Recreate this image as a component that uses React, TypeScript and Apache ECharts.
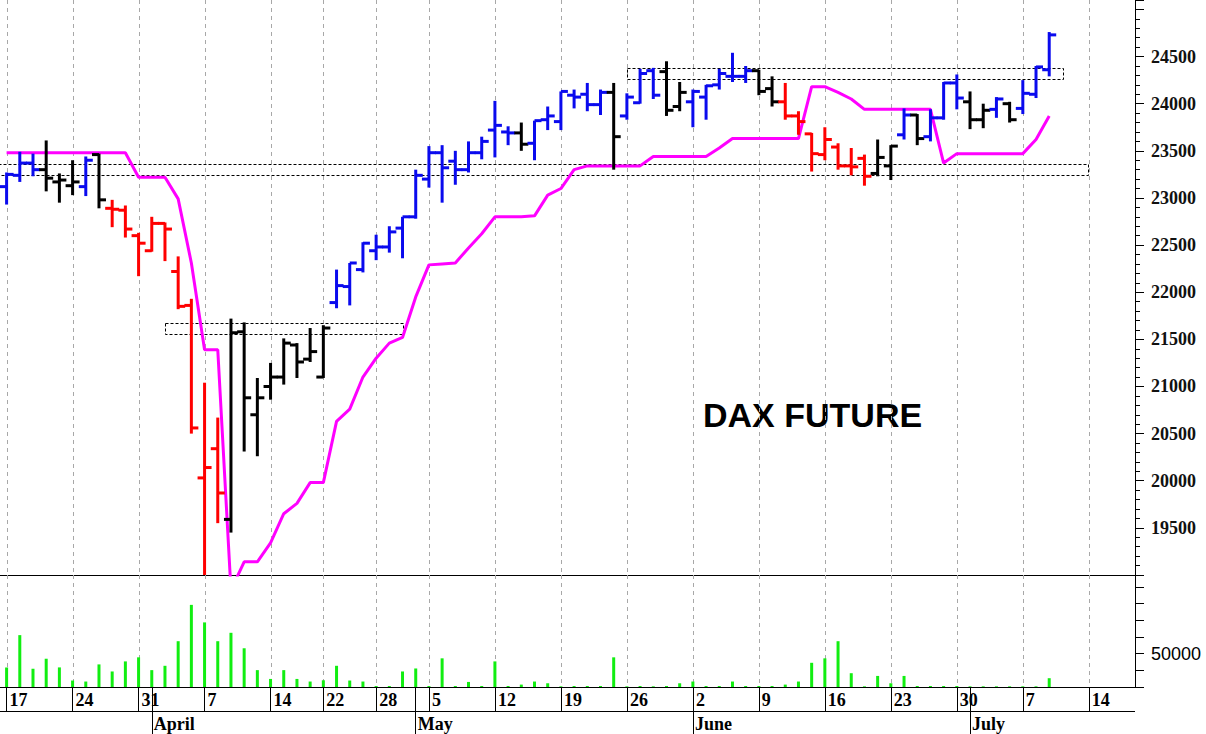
import React, { useEffect, useRef } from 'react';
import * as echarts from 'echarts';

const dates: string[] = [
  '2025-03-17', '2025-03-18', '2025-03-19', '2025-03-20', '2025-03-21',
  '2025-03-24', '2025-03-25', '2025-03-26', '2025-03-27', '2025-03-28',
  '2025-03-31', '2025-04-01', '2025-04-02', '2025-04-03', '2025-04-04',
  '2025-04-07', '2025-04-08', '2025-04-09', '2025-04-10', '2025-04-11',
  '2025-04-14', '2025-04-15', '2025-04-16', '2025-04-17',
  '2025-04-22', '2025-04-23', '2025-04-24', '2025-04-25',
  '2025-04-28', '2025-04-29', '2025-04-30', '2025-05-02',
  '2025-05-05', '2025-05-06', '2025-05-07', '2025-05-08', '2025-05-09',
  '2025-05-12', '2025-05-13', '2025-05-14', '2025-05-15', '2025-05-16',
  '2025-05-19', '2025-05-20', '2025-05-21', '2025-05-22', '2025-05-23',
  '2025-05-26', '2025-05-27', '2025-05-28', '2025-05-29', '2025-05-30',
  '2025-06-02', '2025-06-03', '2025-06-04', '2025-06-05', '2025-06-06',
  '2025-06-09', '2025-06-10', '2025-06-11', '2025-06-12', '2025-06-13',
  '2025-06-16', '2025-06-17', '2025-06-18', '2025-06-19', '2025-06-20',
  '2025-06-23', '2025-06-24', '2025-06-25', '2025-06-26', '2025-06-27',
  '2025-06-30', '2025-07-01', '2025-07-02', '2025-07-03', '2025-07-04',
  '2025-07-07', '2025-07-08', '2025-07-09', '2025-07-10', '2025-07-11',
  '2025-07-14', '2025-07-15', '2025-07-16', '2025-07-17',
];

const weekStartIdx = [0, 5, 10, 15, 20, 24, 28, 32, 37, 42, 47, 52, 57, 62, 67, 72, 77, 82];
const monthStartIdx = [11, 31, 52, 73];
const monthNames = ['April', 'May', 'June', 'July'];

const open = [
  23120, 23240, 23370, 23300, 23170, 23130, 23120, 23460, 22890, 22870,
  22600, 22440, 22730, 22220, 21860, 20030, 20340, 19590, 21580, 20700,
  21000, 21100, 21440, 21290, 21100, 21890, 22060, 22240, 22440, 22480,
  22680, 22800, 23200, 23480, 23390, 23300, 23480, 23720, 23700, 23690,
  23580, 23830, 23810, 24090, 24100, 23990, 24120, 23870, 24010, 24350,
  24340, 23970, 24020, 24070, 24200, 24290, 24290, 24350, 24160, 24020,
  23870, 23680, 23460, 23540, 23340, 23420, 23260, 23340, 23670, 23880,
  23650, 23850, 24220, 24020, 23830, 23940, 24000, 23950, 24100, 24360,
];
const high = [
  23270, 23490, 23470, 23610, 23260, 23400, 23440, 23470, 22980, 22920,
  22630, 22800, 22740, 22380, 21930, 21040, 20670, 21720, 21680, 21090,
  21250, 21510, 21460, 21620, 21650, 22240, 22310, 22530, 22610, 22700,
  22800, 23300, 23550, 23560, 23500, 23600, 23650, 24030, 23760, 23800,
  23820, 23970, 24130, 24150, 24220, 24150, 24220, 24110, 24370, 24380,
  24450, 24230, 24150, 24200, 24370, 24540, 24400, 24360, 24290, 24220,
  23920, 23690, 23750, 23580, 23530, 23460, 23620, 23560, 23950, 23890,
  23940, 24230, 24310, 24130, 24000, 24070, 24020, 24250, 24400, 24760,
];
const low = [
  22930, 23170, 23230, 23070, 22950, 23030, 23020, 22890, 22690, 22580,
  22170, 22430, 22330, 21820, 20500, 18500, 19550, 19450, 20310, 20260,
  20860, 21020, 21090, 21260, 21090, 21830, 21860, 22210, 22340, 22420,
  22360, 22780, 23110, 22950, 23140, 23270, 23410, 23430, 23560, 23500,
  23400, 23720, 23720, 23950, 23920, 23880, 23300, 23830, 24000, 24050,
  23870, 23920, 23750, 23830, 24150, 24230, 24220, 24090, 23970, 23830,
  23670, 23280, 23400, 23300, 23240, 23130, 23230, 23190, 23620, 23560,
  23600, 23830, 23940, 23730, 23740, 23850, 23800, 23890, 24060, 24290,
];
const close = [
  23250, 23370, 23300, 23210, 23190, 23170, 23400, 22980, 22880, 22670,
  22520, 22730, 22670, 21850, 20560, 20140, 19870, 21570, 20880, 20880,
  21100, 21460, 21260, 21370, 21620, 22070, 22310, 22520, 22480, 22640,
  22800, 23240, 23480, 23320, 23300, 23480, 23600, 23770, 23690, 23570,
  23820, 23870, 24130, 24070, 23990, 24120, 23650, 24070, 24320, 24090,
  23930, 24120, 24130, 24190, 24320, 24290, 24350, 24130, 24020, 23870,
  23810, 23470, 23620, 23340, 23330, 23230, 23430, 23550, 23880, 23630,
  23850, 24220, 24060, 23830, 23930, 24050, 23830, 24110, 24390, 24730,
];
// b = uptrend (blue), k = neutral (black), r = downtrend (red)
const trend = [
  'b', 'b', 'b', 'k', 'k', 'k', 'b', 'k', 'r', 'r',
  'r', 'r', 'r', 'r', 'r', 'r', 'r', 'k', 'k', 'k',
  'k', 'k', 'k', 'k', 'k', 'b', 'b', 'b', 'b', 'b',
  'b', 'b', 'b', 'b', 'b', 'b', 'b', 'b', 'b', 'k',
  'b', 'b', 'b', 'b', 'b', 'b', 'k', 'b', 'b', 'b',
  'k', 'k', 'b', 'b', 'b', 'b', 'b', 'k', 'k', 'r',
  'r', 'r', 'r', 'r', 'r', 'r', 'k', 'k', 'b', 'k',
  'b', 'b', 'b', 'k', 'k', 'b', 'k', 'b', 'b', 'b',
];
const stopLine = [
  23480, 23480, 23480, 23480, 23480, 23480, 23480, 23480, 23480, 23480,
  23220, 23220, 23220, 22990, 22310, 21390, 21390, 18840, 19140, 19140,
  19340, 19650, 19760, 19980, 19980, 20630, 20760, 21100, 21300, 21460,
  21520, 21950, 22290, 22300, 22310, 22470, 22620, 22800, 22800, 22800,
  22810, 23030, 23100, 23300, 23340, 23340, 23340, 23340, 23340, 23440,
  23440, 23440, 23440, 23440, 23530, 23630, 23630, 23630, 23630, 23630,
  23630, 24180, 24180, 24120, 24050, 23940, 23940, 23940, 23940, 23940,
  23940, 23370, 23470, 23470, 23470, 23470, 23470, 23470, 23620, 23870,
];
const volume = [
  29400, 77800, 27200, 42400, 29400, 9700, 8200, 33900, 23300, 38400,
  44500, 25300, 31800, 68700, 123200, 96900, 68700, 81300, 58100, 25300,
  12100, 25300, 12100, 8200, 10100, 31800, 9700, 8200, 1500, 1500,
  23300, 27800, 1500, 43000, 1500, 7600, 1500, 38400, 1500, 3600,
  8200, 5600, 1000, 1500, 1500, 1500, 44500, 1000, 1500, 1000,
  1500, 5600, 8200, 1500, 1500, 8200, 1500, 1500, 1500, 3600,
  8200, 36300, 43000, 68700, 20700, 1000, 16600, 5600, 16600, 1500,
  1500, 1500, 1500, 1000, 1000, 1000, 1000, 1000, 1000, 13200,
];
// [fromIndex, toIndex, lowPrice, highPrice]
const zoneFrom = [-1, 47, 12];
const zoneTo = [82, 80, 30];
const zoneLow = [23240, 24260, 21557];
const zoneHigh = [23357, 24375, 21676];

const TREND_COLOR: Record<string, string> = { b: '#0a0aee', k: '#000000', r: '#ff0000' };

export default function App() {
  const ref = useRef<HTMLDivElement>(null);

  useEffect(() => {
    document.body.style.margin = '0';
    const chart = echarts.init(ref.current!, null, { renderer: 'svg' });

    const ohlcData = open.map((o, i) => [i, o, high[i], low[i], close[i]]);
    const zoneData = zoneFrom.map((f, i) => [f, zoneTo[i], zoneLow[i], zoneHigh[i]]);
    const gridLineData = weekStartIdx.map((i) => [i]);

    const gridLineRender = (params: any, api: any) => {
      const cs = params.coordSys;
      const x = Math.round(api.coord([api.value(0), 0])[0]) + 0.5;
      return {
        type: 'line',
        shape: { x1: x, y1: cs.y, x2: x, y2: cs.y + cs.height },
        style: { stroke: '#a8a8a8', lineWidth: 1, lineDash: [4, 4] },
        silent: true,
      };
    };

    const option: any = {
      animation: false,
      backgroundColor: '#ffffff',
      grid: [
        { left: 0, top: 0, width: 1135, height: 575 },
        { left: 0, top: 575, width: 1135, height: 112 },
      ],
      xAxis: [
        {
          type: 'category', gridIndex: 0, data: dates, boundaryGap: true,
          axisLine: { show: true, lineStyle: { color: '#000', width: 1 } },
          axisTick: { show: false }, axisLabel: { show: false }, splitLine: { show: false },
        },
        {
          type: 'category', gridIndex: 1, data: dates, boundaryGap: true, position: 'bottom',
          axisLine: { show: true, lineStyle: { color: '#000', width: 1 } },
          axisTick: {
            show: true, alignWithLabel: true, length: 25,
            interval: (i: number) => weekStartIdx.includes(i),
            lineStyle: { color: '#000', width: 1 },
          },
          axisLabel: {
            interval: (i: number) => weekStartIdx.includes(i),
            formatter: (v: string) => String(Number(v.slice(8))),
            align: 'left', padding: [0, 0, 0, 3], margin: 4,
            fontFamily: 'Liberation Serif', fontWeight: 'bold', fontSize: 18, color: '#000',
          },
          splitLine: { show: false },
        },
        {
          type: 'category', gridIndex: 1, data: dates, boundaryGap: true, position: 'bottom',
          axisLine: { show: false },
          axisTick: {
            show: true, alignWithLabel: true, length: 47,
            interval: (i: number) => monthStartIdx.includes(i),
            lineStyle: { color: '#000', width: 1 },
          },
          axisLabel: {
            interval: (i: number) => monthStartIdx.includes(i),
            formatter: (v: string, i: number) => monthNames[monthStartIdx.indexOf(i)] ?? '',
            align: 'left', padding: [0, 0, 0, 2], margin: 28,
            fontFamily: 'Liberation Serif', fontWeight: 'bold', fontSize: 18, color: '#000',
          },
          splitLine: { show: false },
        },
      ],
      yAxis: [
        {
          type: 'value', gridIndex: 0, position: 'right', min: 19000, max: 25100, interval: 500,
          axisLine: { show: true, lineStyle: { color: '#000', width: 1 } },
          axisTick: { show: true, length: 9, lineStyle: { color: '#000', width: 1 } },
          minorTick: { show: true, splitNumber: 5, length: 5, lineStyle: { color: '#000', width: 1 } },
          splitLine: { show: false }, minorSplitLine: { show: false },
          axisLabel: {
            margin: 16,
            formatter: (v: number) => (v >= 19500 && v <= 24500 ? String(v) : ''),
            fontFamily: 'Liberation Serif', fontWeight: 'bold', fontSize: 18, color: '#111',
          },
        },
        {
          type: 'value', gridIndex: 1, position: 'right', min: 0, max: 168000, interval: 25000,
          axisLine: { show: true, lineStyle: { color: '#000', width: 1 } },
          axisTick: { show: true, length: 9, lineStyle: { color: '#000', width: 1 } },
          splitLine: { show: false },
          axisLabel: {
            margin: 16,
            formatter: (v: number) => (v === 50000 ? '50000' : ''),
            fontFamily: 'Liberation Sans', fontSize: 18, color: '#000',
          },
        },
      ],
      series: [
        {
          type: 'custom', name: 'grid-price', xAxisIndex: 0, yAxisIndex: 0, z: 1,
          data: gridLineData, encode: { x: 0 }, renderItem: gridLineRender, silent: true,
        },
        {
          type: 'custom', name: 'grid-volume', xAxisIndex: 1, yAxisIndex: 1, z: 1,
          data: gridLineData, encode: { x: 0 }, renderItem: gridLineRender, silent: true,
        },
        {
          type: 'custom', name: 'zones', xAxisIndex: 0, yAxisIndex: 0, z: 2, clip: true,
          data: zoneData, encode: { x: [0, 1], y: [2, 3] }, silent: true,
          renderItem: (params: any, api: any) => {
            const p1 = api.coord([api.value(0), api.value(3)]);
            const p2 = api.coord([api.value(1), api.value(2)]);
            return {
              type: 'rect',
              shape: {
                x: Math.round(p1[0]) + 0.5, y: Math.round(p1[1]) + 0.5,
                width: Math.round(p2[0] - p1[0]), height: Math.round(p2[1] - p1[1]),
              },
              style: { fill: 'none', stroke: '#000', lineWidth: 1, lineDash: [3, 2] },
            };
          },
        },
        {
          type: 'line', name: 'stop', xAxisIndex: 0, yAxisIndex: 0, z: 3,
          data: stopLine, symbol: 'none', showSymbol: false,
          lineStyle: { color: '#ff00ff', width: 3 }, silent: true,
        },
        {
          type: 'custom', name: 'DAX', xAxisIndex: 0, yAxisIndex: 0, z: 4, clip: true,
          data: ohlcData, encode: { x: 0, y: [1, 2, 3, 4] },
          renderItem: (params: any, api: any) => {
            const i = api.value(0);
            const pH = api.coord([i, api.value(2)]);
            const pL = api.coord([i, api.value(3)]);
            const yO = api.coord([i, api.value(1)])[1];
            const yC = api.coord([i, api.value(4)])[1];
            const x = pH[0];
            const color = TREND_COLOR[trend[params.dataIndex]];
            const st = { stroke: color, lineWidth: 3 };
            return {
              type: 'group',
              children: [
                { type: 'line', shape: { x1: x, y1: pH[1], x2: x, y2: pL[1] }, style: st },
                { type: 'line', shape: { x1: x - 7, y1: yO, x2: x, y2: yO }, style: st },
                { type: 'line', shape: { x1: x, y1: yC, x2: x + 7, y2: yC }, style: st },
              ],
            };
          },
        },
        {
          type: 'bar', name: 'Volume', xAxisIndex: 1, yAxisIndex: 1, z: 4,
          data: volume, barWidth: 3, itemStyle: { color: '#11ee11' }, silent: true,
        },
      ],
      graphic: [
        {
          type: 'line', silent: true,
          shape: { x1: 0, y1: 711.5, x2: 1135, y2: 711.5 },
          style: { stroke: '#000', lineWidth: 1 },
        },
        {
          type: 'text', silent: true,
          style: {
            x: 703, y: 415, text: 'DAX FUTURE', fontFamily: 'Liberation Sans', fontWeight: 'bold',
            fontSize: 34, fill: '#000', align: 'left', verticalAlign: 'middle',
          },
        },
      ],
    };

    chart.setOption(option);
    return () => chart.dispose();
  }, []);

  return <div ref={ref} style={{ width: 1206, height: 734 }} />;
}
